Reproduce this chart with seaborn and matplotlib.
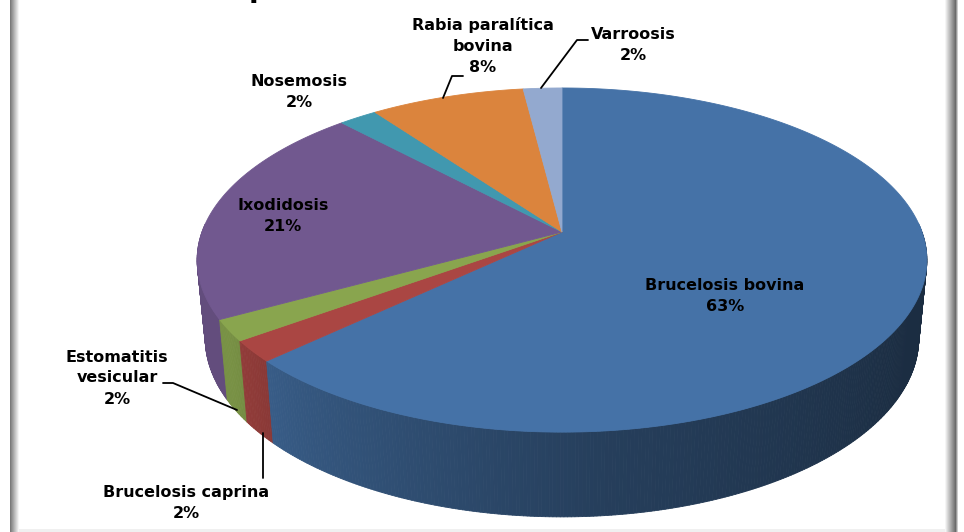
import numpy as np
import matplotlib
matplotlib.use("Agg")
import matplotlib.pyplot as plt
import matplotlib.colors as mcolors
from matplotlib.collections import PolyCollection
import seaborn as sns


# Data

diseases = ["Brucelosis bovina", "Brucelosis caprina", "Estomatitis\nvesicular",
            "Ixodidosis", "Nosemosis", "Rabia paralítica\nbovina", "Varroosis"]
shares = [63, 2, 2, 21, 2, 8, 2]
pct_labels = ["63%", "2%", "2%", "21%", "2%", "8%", "2%"]
slice_colors = ["#4572A7", "#AA4643", "#89A54E", "#71588F", "#4198AF", "#DB843D", "#93A9CF"]


# Style

sns.set_theme(style="white")
plt.rcParams['font.family'] = ['DejaVu Sans']

W, H = 964, 532
CX = 562
P = 0.163                                   # perspective strength
TOP = dict(cy=232, s=360, sq=167.5)         # top face of the pie (pixels)
BOT = dict(cy=309, s=352, sq=174)           # bottom rim of the pie


def project(theta_deg, ring):
    t = np.radians(theta_deg)
    u, v = np.cos(t), np.sin(t)
    d = 1 + P * v
    return CX + ring['s'] * u / d, ring['cy'] - ring['sq'] * v / d


fig = plt.figure(figsize=(W / 100, H / 100), dpi=100)
ax = fig.add_axes([0, 0, 1, 1])
ax.set_xlim(0, W)
ax.set_ylim(H, 0)
ax.axis('off')

# slice angles, clockwise from 12 o'clock
ends = 90 - np.cumsum(shares) * 3.6
starts = np.concatenate([[90.0], ends[:-1]])


# Side walls, painted back to front

quads, qcols, depth = [], [], []
for t2, t1, col in zip(starts, ends, slice_colors):
    base = np.array(mcolors.to_rgb(col))
    steps = np.linspace(t1, t2, max(3, int(abs(t2 - t1) * 2)) + 1)
    for a, b in zip(steps[:-1], steps[1:]):
        mid = (a + b) / 2
        if np.sin(np.radians(mid)) > 0.05:
            continue
        xa, ya = project(a, TOP)
        xb, yb = project(b, TOP)
        xc, yc = project(b, BOT)
        xd, yd = project(a, BOT)
        ang = mid % 360
        shade = np.interp(ang, [180, 212, 232, 275, 330, 360],
                          [0.86, 0.88, 0.76, 0.55, 0.40, 0.38])
        quads.append([(xa, ya), (xb, yb), (xc, yc), (xd, yd)])
        qcols.append(np.clip(base * shade, 0, 1))
        depth.append(np.sin(np.radians(mid)))

order = np.argsort(depth)[::-1]
side = PolyCollection([quads[i] for i in order],
                      facecolors=[qcols[i] for i in order],
                      edgecolors=[qcols[i] for i in order], linewidths=0.6, zorder=1)
ax.add_collection(side)


# Top face

for t2, t1, col in zip(starts, ends, slice_colors):
    arc = np.linspace(t2, t1, max(4, int(abs(t2 - t1))) + 1)
    xs, ys = project(arc, TOP)
    ax.fill(np.concatenate([[CX], xs]), np.concatenate([[TOP['cy']], ys]),
            color=col, ec=col, lw=0.6, zorder=3)


# Labels and leader lines

label_pos = [(725, 296), (186, 503), (117, 378), (283, 216), (299, 92), (483, 46), (633, 45)]
for name, pct, (x, y) in zip(diseases, pct_labels, label_pos):
    ax.text(x, y, name + "\n" + pct, ha='center', va='center', fontsize=11.5,
            fontweight='bold', color='black', linespacing=1.5, zorder=5)

leaders = [
    ([588, 577, 541], [40, 40, 88]),      # Varroosis
    ([463, 452, 443], [76, 76, 98]),      # Rabia
    ([163, 173, 237], [383, 383, 410]),   # Estomatitis
    ([263, 263], [433, 478]),             # Brucelosis caprina
]
for xs, ys in leaders:
    ax.plot(xs, ys, color='black', lw=1.3, zorder=5)

# the chart title sits above the crop; only a descender peeks in
ax.text(249, -3, "p", ha='left', va='baseline', fontsize=20, fontweight='bold',
        color='black', clip_on=False)


# Gray frame

for i, g in enumerate(np.linspace(0.48, 0.96, 9)):
    ax.axvspan(10 + i, 11 + i, color=str(g), lw=0)
for i, g in enumerate(np.linspace(0.96, 0.42, 11)):
    ax.axvspan(945 + i, 946 + i, color=str(g), lw=0)
for i, g in enumerate([0.6, 0.8]):
    ax.axvspan(956 + i, 957 + i, color=str(g), lw=0)
ax.axhspan(529, 532, xmin=19 / W, xmax=945 / W, color='#f0f0f0', lw=0)

fig.savefig('out.png', dpi=100)
